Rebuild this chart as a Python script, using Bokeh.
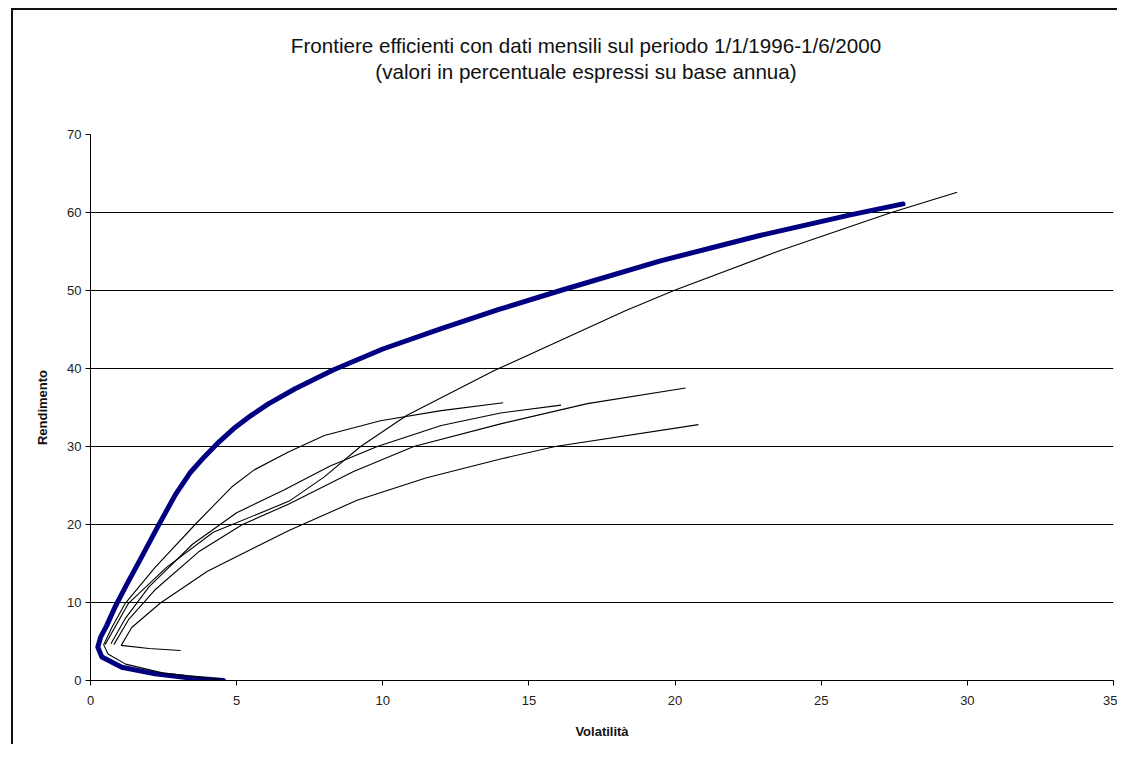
from bokeh.plotting import figure
from bokeh.models import Div, Range1d, FixedTicker
from bokeh.layouts import column, row
from bokeh.embed import file_html
from bokeh.resources import INLINE

# ---- data ----
title_line1 = "Frontiere efficienti con dati mensili sul periodo 1/1/1996-1/6/2000"
title_line2 = "(valori in percentuale espressi su base annua)"
x_label = "Volatilità"
y_label = "Rendimento"
x_ticks = [0, 5, 10, 15, 20, 25, 30, 35]
y_ticks = [0, 10, 20, 30, 40, 50, 60, 70]

# thick blue frontier
blue_x = [4.55, 3.35, 2.21, 1.07, 0.39, 0.25, 0.35, 0.55, 0.85, 1.25, 1.7, 2.27, 2.9, 3.4,
          3.9, 4.4, 4.9, 5.5, 6.1, 7.0, 8.3, 10.0, 12.0, 14.0, 16.08, 19.5, 22.9, 26.0, 27.8]
blue_y = [0.0, 0.35, 0.85, 1.7, 3.0, 4.3, 5.6, 7.0, 9.5, 12.4, 15.5, 19.5, 23.8, 26.6,
          28.7, 30.6, 32.3, 34.0, 35.5, 37.4, 39.8, 42.5, 45.1, 47.6, 50.0, 53.8, 57.05, 59.7, 61.1]

# thin black frontiers
a_x = [0.5, 1.3, 2.6, 4.2, 6.8, 8.0, 9.24, 10.83, 13.8, 18.3, 19.96, 23.5, 27.4, 29.65]
a_y = [4.6, 9.9, 14.5, 19.0, 23.0, 26.1, 30.0, 34.0, 39.7, 47.4, 50.0, 55.0, 60.0, 62.6]

b_x = [4.4, 2.5, 1.2, 0.6, 0.45, 0.73, 1.19, 2.21, 3.58, 4.83, 5.6, 6.77, 8.0, 9.92, 12.0, 14.12]
b_y = [0.15, 0.95, 2.1, 3.4, 4.6, 6.8, 9.9, 14.5, 20.0, 24.8, 27.0, 29.3, 31.4, 33.3, 34.6, 35.6]

c_x = [0.7, 1.2, 2.0, 3.5, 5.0, 6.6, 8.2, 9.81, 12.0, 14.03, 16.1]
c_y = [4.7, 8.0, 12.0, 17.5, 21.5, 24.4, 27.5, 30.0, 32.7, 34.3, 35.3]

d_x = [0.8, 1.3, 2.2, 3.7, 5.2, 6.77, 9.0, 11.06, 14.03, 17.0, 20.36]
d_y = [4.6, 7.8, 11.6, 16.5, 20.0, 22.6, 26.8, 30.0, 32.9, 35.5, 37.5]

e_x = [3.08, 2.0, 1.05, 1.41, 2.38, 4.0, 6.77, 9.12, 11.5, 14.03, 15.9, 20.8]
e_y = [3.85, 4.1, 4.5, 6.8, 9.9, 14.0, 19.2, 23.1, 26.0, 28.4, 30.0, 32.8]

thin_series = [(a_x, a_y), (b_x, b_y), (c_x, c_y), (d_x, d_y), (e_x, e_y)]

FONT = "Liberation Sans"

# left edge of the chart box
left_bar = Div(text="", width=2, height=736, margin=0,
               styles={"background-color": "#111"})

# title block with the top edge of the chart box
title_div = Div(
    text=f"{title_line1}<br>{title_line2}",
    width=1104, height=82, margin=0,
    styles={"font-family": FONT, "font-size": "20.6px", "line-height": "26px",
            "color": "#111", "text-align": "center", "box-sizing": "border-box",
            "border-top": "2px solid #111",
            "padding-top": "23px", "padding-left": "42px"},
)

p = figure(width=1104, height=654,
           x_range=Range1d(0, 35), y_range=Range1d(0, 70),
           output_backend="svg", toolbar_location=None,
           min_border_left=77, min_border_right=4,
           min_border_top=44, min_border_bottom=64,
           background_fill_color="white", border_fill_color="white")
p.margin = 0

p.line(blue_x, blue_y, line_color="#000080", line_width=5, line_join="round", line_cap="round")
for sx, sy in thin_series:
    p.line(sx, sy, line_color="black", line_width=1.1)

p.outline_line_color = None
p.xgrid.visible = False
p.ygrid.grid_line_color = "black"
p.ygrid.grid_line_alpha = 1
p.ygrid.grid_line_width = 1

p.xaxis.ticker = FixedTicker(ticks=x_ticks)
p.yaxis.ticker = FixedTicker(ticks=y_ticks)
for ax in (p.xaxis[0], p.yaxis[0]):
    ax.axis_line_color = "black"
    ax.axis_line_width = 1
    ax.major_tick_line_color = "black"
    ax.major_tick_in = 0
    ax.major_tick_out = 5
    ax.minor_tick_line_color = None
    ax.major_label_text_font = FONT
    ax.major_label_text_font_size = "13px"
    ax.major_label_text_color = "#222"
    ax.axis_label_text_font = FONT
    ax.axis_label_text_font_size = "13px"
    ax.axis_label_text_font_style = "bold"
    ax.axis_label_text_color = "#111"

p.xaxis.axis_label = x_label
p.yaxis.axis_label = y_label
p.xaxis.major_label_standoff = 10
p.xaxis.axis_label_standoff = 16
p.yaxis.major_label_standoff = 4
p.yaxis.axis_label_standoff = 14

inner = column(title_div, p, spacing=0)
inner.margin = 0
layout = row(left_bar, inner, spacing=0)
layout.margin = (8, 0, 0, 11)

open("out.html", "w").write(file_html(layout, INLINE))
